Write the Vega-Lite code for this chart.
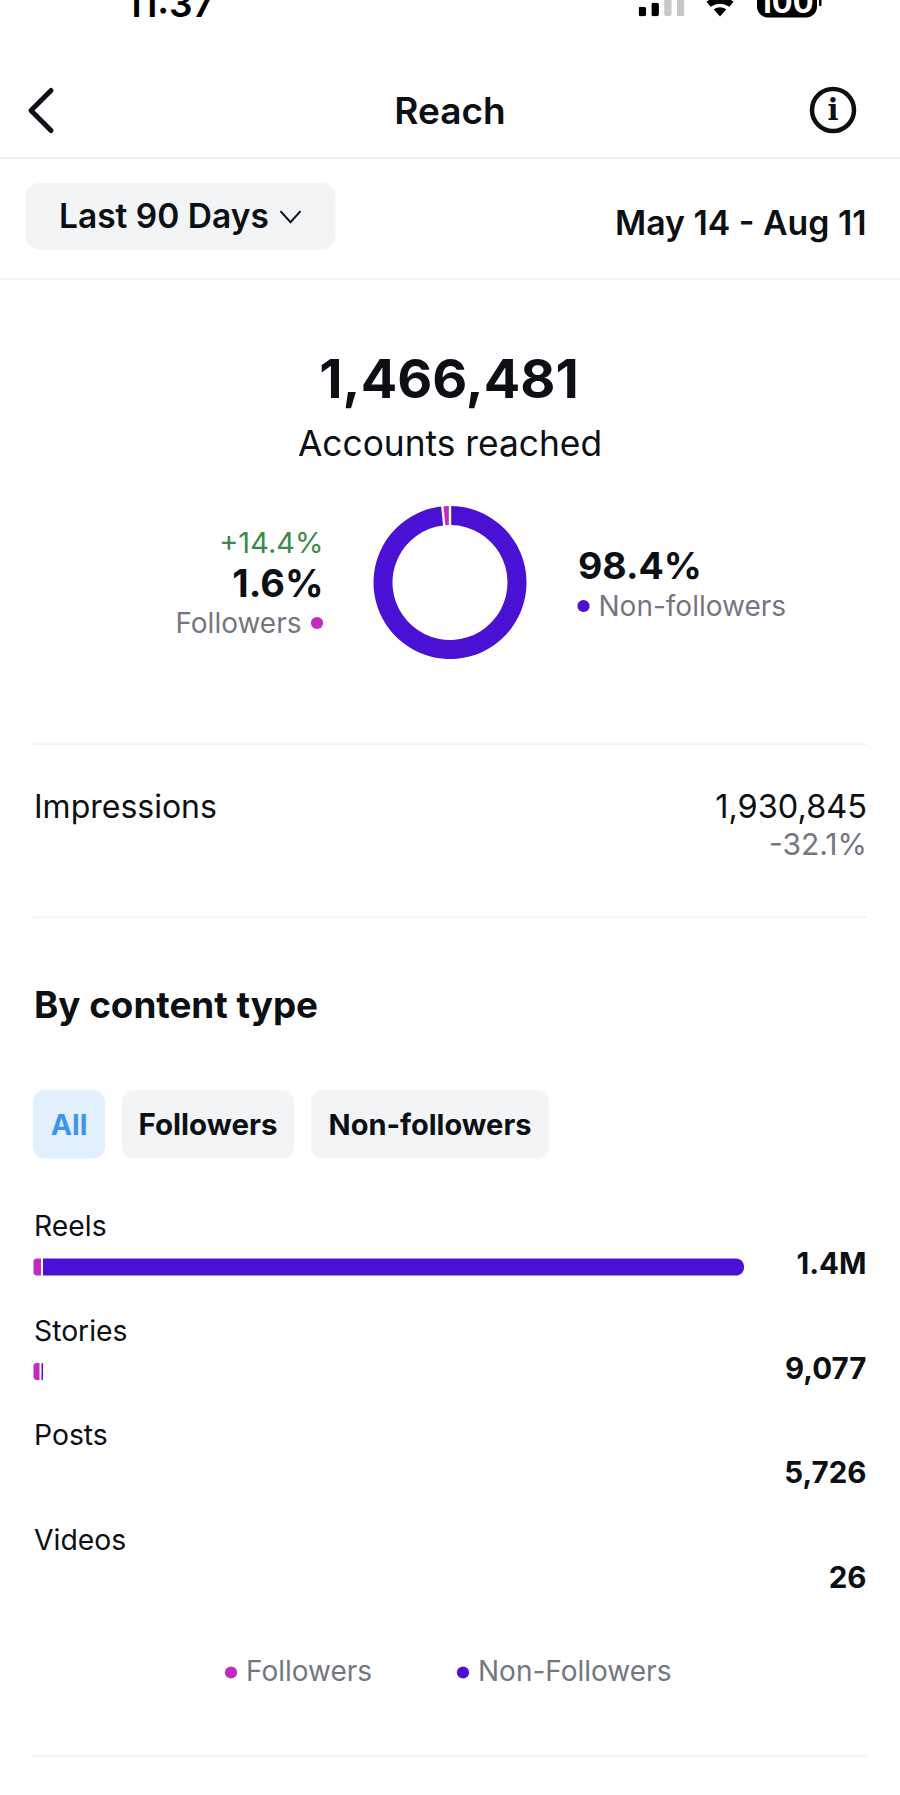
{"$schema":"https://vega.github.io/schema/vega-lite/v6.json","width":900,"height":1795,"autosize":{"type":"none"},"padding":0,"background":"white","view":{"stroke":null},"config":{"text":{"font":"Inter","baseline":"middle"}},"datasets":{"reach":[{"series":"Followers","share":1.6},{"series":"Non-Followers","share":98.4}],"content":[{"type":"Reels","series":"Followers","reach":16700},{"type":"Reels","series":"Non-Followers","reach":1383300},{"type":"Stories","series":"Followers","reach":13800},{"type":"Stories","series":"Non-Followers","reach":4900}],"totals":[{"type":"Reels","label":"1.4M"},{"type":"Stories","label":"9,077"},{"type":"Posts","label":"5,726"},{"type":"Videos","label":"26"}],"signal":[{"bar":"s1","level":10,"state":"on"},{"bar":"s2","level":14,"state":"on"},{"bar":"s3","level":18,"state":"off"},{"bar":"s4","level":18,"state":"off"}]},"resolve":{"scale":{"x":"independent","y":"independent"}},"layer":[
{"data":{"values":[{"d":"header rule"}]},"mark":{"type":"rect","color":"#eeeff1"},"encoding":{"x":{"field":"d","type":"nominal","axis":null,"scale":{"range":[0,900],"padding":0}},"y":{"field":"d","type":"nominal","axis":null,"scale":{"range":[157,159],"padding":0}}}},
{"data":{"values":[{"d":"filter rule"}]},"mark":{"type":"rect","color":"#f1f2f3"},"encoding":{"x":{"field":"d","type":"nominal","axis":null,"scale":{"range":[0,900],"padding":0}},"y":{"field":"d","type":"nominal","axis":null,"scale":{"range":[278.5,280],"padding":0}}}},
{"data":{"values":[{"d":"rule a"}]},"mark":{"type":"rect","color":"#f1f2f3"},"encoding":{"x":{"field":"d","type":"nominal","axis":null,"scale":{"range":[33,867],"padding":0}},"y":{"field":"d","type":"nominal","axis":null,"scale":{"range":[743.5,745],"padding":0}}}},
{"data":{"values":[{"d":"rule b"}]},"mark":{"type":"rect","color":"#f1f2f3"},"encoding":{"x":{"field":"d","type":"nominal","axis":null,"scale":{"range":[33,867],"padding":0}},"y":{"field":"d","type":"nominal","axis":null,"scale":{"range":[916.5,918],"padding":0}}}},
{"data":{"values":[{"d":"rule c"}]},"mark":{"type":"rect","color":"#f1f2f3"},"encoding":{"x":{"field":"d","type":"nominal","axis":null,"scale":{"range":[33,867],"padding":0}},"y":{"field":"d","type":"nominal","axis":null,"scale":{"range":[1755.5,1757],"padding":0}}}},
{"data":{"values":[{"p":"range"}]},"mark":{"type":"rect","color":"#f3f4f6","cornerRadius":14},"encoding":{"x":{"field":"p","type":"nominal","axis":null,"scale":{"range":[25.5,335.5],"padding":0}},"y":{"field":"p","type":"nominal","axis":null,"scale":{"range":[183,249.5],"padding":0}}}},
{"data":{"values":[{"p":"all"}]},"mark":{"type":"rect","color":"#e2effd","cornerRadius":12},"encoding":{"x":{"field":"p","type":"nominal","axis":null,"scale":{"range":[33,105],"padding":0}},"y":{"field":"p","type":"nominal","axis":null,"scale":{"range":[1090,1158.5],"padding":0}}}},
{"data":{"values":[{"p":"followers"}]},"mark":{"type":"rect","color":"#f3f4f6","cornerRadius":12},"encoding":{"x":{"field":"p","type":"nominal","axis":null,"scale":{"range":[122,294],"padding":0}},"y":{"field":"p","type":"nominal","axis":null,"scale":{"range":[1090,1158.5],"padding":0}}}},
{"data":{"values":[{"p":"non"}]},"mark":{"type":"rect","color":"#f3f4f6","cornerRadius":12},"encoding":{"x":{"field":"p","type":"nominal","axis":null,"scale":{"range":[311,549],"padding":0}},"y":{"field":"p","type":"nominal","axis":null,"scale":{"range":[1090,1158.5],"padding":0}}}},
{"data":{"name":"signal"},"mark":{"type":"bar","cornerRadius":2.5},"encoding":{"x":{"field":"bar","type":"nominal","axis":null,"scale":{"range":[638.5,684.5],"paddingInner":0.4,"paddingOuter":0}},"y":{"field":"level","type":"quantitative","axis":null,"scale":{"domain":[0,18],"range":[16.5,-1.5]}},"color":{"condition":{"test":"datum.state==='off'","value":"#c8c8c8"},"value":"#000000"}}},
{"data":{"values":[{"i":"wifi"}]},"mark":{"type":"point","filled":true,"opacity":1,"color":"#000000","size":1156,"shape":"M0,0.97 L-0.37,0.55 Q0,0.3 0.37,0.55 Z M-0.8,0.1 Q0,-0.45 0.8,0.1 L0.55,0.4 Q0,0.05 -0.55,0.4 Z"},"encoding":{"x":{"field":"i","type":"nominal","axis":null,"scale":{"range":[720,720]}},"y":{"field":"i","type":"nominal","axis":null,"scale":{"range":[0,0]}}}},
{"data":{"values":[{"i":"battery"}]},"mark":{"type":"rect","color":"#000000","cornerRadius":11},"encoding":{"x":{"field":"i","type":"nominal","axis":null,"scale":{"range":[757,817],"padding":0}},"y":{"field":"i","type":"nominal","axis":null,"scale":{"range":[-20,17.5],"padding":0}}}},
{"data":{"values":[{"i":"nub"}]},"mark":{"type":"rect","color":"#000000","cornerRadius":1},"encoding":{"x":{"field":"i","type":"nominal","axis":null,"scale":{"range":[819,821.5],"padding":0}},"y":{"field":"i","type":"nominal","axis":null,"scale":{"range":[-4,6],"padding":0}}}},
{"data":{"values":[{"t":"100"}]},"mark":{"type":"text","fontSize":31,"fontWeight":700,"color":"#ffffff","align":"center","baseline":"alphabetic"},"encoding":{"text":{"field":"t"},"x":{"field":"t","type":"nominal","axis":null,"scale":{"range":[786,786]}},"y":{"field":"t","type":"nominal","axis":null,"scale":{"range":[13,13]}}}},
{"data":{"values":[{"t":"11:37"}]},"mark":{"type":"text","fontSize":37,"fontWeight":600,"color":"#000000","align":"center","baseline":"alphabetic"},"encoding":{"text":{"field":"t"},"x":{"field":"t","type":"nominal","axis":null,"scale":{"range":[170,170]}},"y":{"field":"t","type":"nominal","axis":null,"scale":{"range":[17,17]}}}},
{"data":{"values":[{"i":"back"}]},"mark":{"type":"point","filled":false,"opacity":1,"color":"#0c1014","strokeWidth":5,"strokeCap":"round","strokeJoin":"round","size":1600,"shape":"M0.5,-1 L-0.5,0 L0.5,1"},"encoding":{"x":{"field":"i","type":"nominal","axis":null,"scale":{"range":[41,41]}},"y":{"field":"i","type":"nominal","axis":null,"scale":{"range":[110.5,110.5]}}}},
{"data":{"values":[{"i":"info"}]},"mark":{"type":"point","filled":false,"opacity":1,"color":"#0c1014","strokeWidth":4.5,"size":1764,"shape":"circle"},"encoding":{"x":{"field":"i","type":"nominal","axis":null,"scale":{"range":[833,833]}},"y":{"field":"i","type":"nominal","axis":null,"scale":{"range":[110,110]}}}},
{"data":{"values":[{"t":"i"}]},"mark":{"type":"text","font":"DejaVu Serif","fontSize":29,"fontWeight":700,"color":"#0c1014","align":"center"},"encoding":{"text":{"field":"t"},"x":{"field":"t","type":"nominal","axis":null,"scale":{"range":[833,833]}},"y":{"field":"t","type":"nominal","axis":null,"scale":{"range":[111,111]}}}},
{"data":{"values":[{"i":"chevron"}]},"mark":{"type":"point","filled":false,"opacity":1,"color":"#0c1014","strokeWidth":2,"size":400,"shape":"M-1,-0.55 L0,0.55 L1,-0.55"},"encoding":{"x":{"field":"i","type":"nominal","axis":null,"scale":{"range":[290.5,290.5]}},"y":{"field":"i","type":"nominal","axis":null,"scale":{"range":[216.7,216.7]}}}},
{"data":{"values":[{"t":"Reach"}]},"mark":{"type":"text","fontSize":37,"fontWeight":600,"color":"#0c1014","align":"center"},"encoding":{"text":{"field":"t"},"x":{"field":"t","type":"nominal","axis":null,"scale":{"range":[450,450]}},"y":{"field":"t","type":"nominal","axis":null,"scale":{"range":[113,113]}}}},
{"data":{"values":[{"t":"Last 90 Days"}]},"mark":{"type":"text","fontSize":33.5,"fontWeight":600,"color":"#0c1014","align":"left"},"encoding":{"text":{"field":"t"},"x":{"field":"t","type":"nominal","axis":null,"scale":{"range":[59,59]}},"y":{"field":"t","type":"nominal","axis":null,"scale":{"range":[218,218]}}}},
{"data":{"values":[{"t":"May 14 - Aug 11"}]},"mark":{"type":"text","fontSize":33.8,"fontWeight":600,"color":"#0c1014","align":"right"},"encoding":{"text":{"field":"t"},"x":{"field":"t","type":"nominal","axis":null,"scale":{"range":[866.5,866.5]}},"y":{"field":"t","type":"nominal","axis":null,"scale":{"range":[225,225]}}}},
{"data":{"values":[{"t":"1,466,481"}]},"mark":{"type":"text","fontSize":54,"fontWeight":700,"color":"#0c1014","align":"center"},"encoding":{"text":{"field":"t"},"x":{"field":"t","type":"nominal","axis":null,"scale":{"range":[449,449]}},"y":{"field":"t","type":"nominal","axis":null,"scale":{"range":[382,382]}}}},
{"data":{"values":[{"t":"Accounts reached"}]},"mark":{"type":"text","fontSize":35.3,"fontWeight":400,"color":"#0c1014","align":"center"},"encoding":{"text":{"field":"t"},"x":{"field":"t","type":"nominal","axis":null,"scale":{"range":[450,450]}},"y":{"field":"t","type":"nominal","axis":null,"scale":{"range":[445,445]}}}},
{"data":{"name":"reach"},"mark":{"type":"arc","innerRadius":57.5,"outerRadius":76.5,"padAngle":0.025},"encoding":{"theta":{"field":"share","type":"quantitative","stack":true},"order":{"field":"series","sort":"descending"},"color":{"field":"series","type":"nominal","scale":{"domain":["Followers","Non-Followers"],"range":["#c32bc0","#4a10d3"]},"legend":{"orient":"none","legendX":217,"legendY":1658.5,"direction":"horizontal","title":null,"symbolType":"circle","symbolSize":150,"labelFont":"Inter","labelFontSize":28,"labelColor":"#737780","labelOffset":1,"labelLimit":400,"columnPadding":76,"symbolStrokeWidth":0}},"x":{"datum":"donut","type":"nominal","axis":null,"scale":{"range":[450,450]}},"y":{"datum":"donut","type":"nominal","axis":null,"scale":{"range":[582.5,582.5]}}}},
{"data":{"values":[{"t":"+14.4%"}]},"mark":{"type":"text","fontSize":29,"fontWeight":400,"color":"#3b8a4b","align":"right"},"encoding":{"text":{"field":"t"},"x":{"field":"t","type":"nominal","axis":null,"scale":{"range":[323.5,323.5]}},"y":{"field":"t","type":"nominal","axis":null,"scale":{"range":[543.5,543.5]}}}},
{"data":{"values":[{"t":"1.6%"}]},"mark":{"type":"text","fontSize":38,"fontWeight":700,"color":"#0c1014","align":"right"},"encoding":{"text":{"field":"t"},"x":{"field":"t","type":"nominal","axis":null,"scale":{"range":[323.5,323.5]}},"y":{"field":"t","type":"nominal","axis":null,"scale":{"range":[586,586]}}}},
{"data":{"values":[{"t":"Followers"}]},"mark":{"type":"text","fontSize":28,"fontWeight":400,"color":"#737780","align":"right"},"encoding":{"text":{"field":"t"},"x":{"field":"t","type":"nominal","axis":null,"scale":{"range":[301.5,301.5]}},"y":{"field":"t","type":"nominal","axis":null,"scale":{"range":[625,625]}}}},
{"data":{"values":[{"s":"Followers"}]},"mark":{"type":"point","filled":true,"opacity":1,"color":"#c32bc0","size":150,"shape":"circle"},"encoding":{"x":{"field":"s","type":"nominal","axis":null,"scale":{"range":[317,317]}},"y":{"field":"s","type":"nominal","axis":null,"scale":{"range":[623,623]}}}},
{"data":{"values":[{"t":"98.4%"}]},"mark":{"type":"text","fontSize":37.5,"fontWeight":700,"color":"#0c1014","align":"left"},"encoding":{"text":{"field":"t"},"x":{"field":"t","type":"nominal","axis":null,"scale":{"range":[578,578]}},"y":{"field":"t","type":"nominal","axis":null,"scale":{"range":[567.5,567.5]}}}},
{"data":{"values":[{"s":"Non-followers"}]},"mark":{"type":"point","filled":true,"opacity":1,"color":"#4a10d3","size":150,"shape":"circle"},"encoding":{"x":{"field":"s","type":"nominal","axis":null,"scale":{"range":[583.5,583.5]}},"y":{"field":"s","type":"nominal","axis":null,"scale":{"range":[606,606]}}}},
{"data":{"values":[{"t":"Non-followers"}]},"mark":{"type":"text","fontSize":28,"fontWeight":400,"color":"#737780","align":"left"},"encoding":{"text":{"field":"t"},"x":{"field":"t","type":"nominal","axis":null,"scale":{"range":[598.5,598.5]}},"y":{"field":"t","type":"nominal","axis":null,"scale":{"range":[607.5,607.5]}}}},
{"data":{"values":[{"t":"Impressions"}]},"mark":{"type":"text","fontSize":32,"fontWeight":400,"color":"#0c1014","align":"left"},"encoding":{"text":{"field":"t"},"x":{"field":"t","type":"nominal","axis":null,"scale":{"range":[34,34]}},"y":{"field":"t","type":"nominal","axis":null,"scale":{"range":[808,808]}}}},
{"data":{"values":[{"t":"1,930,845"}]},"mark":{"type":"text","fontSize":32.5,"fontWeight":400,"color":"#0c1014","align":"right"},"encoding":{"text":{"field":"t"},"x":{"field":"t","type":"nominal","axis":null,"scale":{"range":[867,867]}},"y":{"field":"t","type":"nominal","axis":null,"scale":{"range":[808,808]}}}},
{"data":{"values":[{"t":"-32.1%"}]},"mark":{"type":"text","fontSize":30,"fontWeight":400,"color":"#737780","align":"right"},"encoding":{"text":{"field":"t"},"x":{"field":"t","type":"nominal","axis":null,"scale":{"range":[867,867]}},"y":{"field":"t","type":"nominal","axis":null,"scale":{"range":[845.5,845.5]}}}},
{"data":{"values":[{"t":"By content type"}]},"mark":{"type":"text","fontSize":36.8,"fontWeight":700,"color":"#0c1014","align":"left"},"encoding":{"text":{"field":"t"},"x":{"field":"t","type":"nominal","axis":null,"scale":{"range":[34,34]}},"y":{"field":"t","type":"nominal","axis":null,"scale":{"range":[1007,1007]}}}},
{"data":{"values":[{"t":"All"}]},"mark":{"type":"text","fontSize":28.5,"fontWeight":700,"color":"#3f94f0","align":"center"},"encoding":{"text":{"field":"t"},"x":{"field":"t","type":"nominal","axis":null,"scale":{"range":[69,69]}},"y":{"field":"t","type":"nominal","axis":null,"scale":{"range":[1126,1126]}}}},
{"data":{"values":[{"t":"Followers"}]},"mark":{"type":"text","fontSize":29.5,"fontWeight":700,"color":"#0c1014","align":"center"},"encoding":{"text":{"field":"t"},"x":{"field":"t","type":"nominal","axis":null,"scale":{"range":[208,208]}},"y":{"field":"t","type":"nominal","axis":null,"scale":{"range":[1126,1126]}}}},
{"data":{"values":[{"t":"Non-followers"}]},"mark":{"type":"text","fontSize":29,"fontWeight":700,"color":"#0c1014","align":"center"},"encoding":{"text":{"field":"t"},"x":{"field":"t","type":"nominal","axis":null,"scale":{"range":[430,430]}},"y":{"field":"t","type":"nominal","axis":null,"scale":{"range":[1126,1126]}}}},
{"data":{"name":"totals"},"mark":{"type":"text","fontSize":28.3,"fontWeight":400,"color":"#0c1014","align":"left"},"encoding":{"text":{"field":"type"},"x":{"datum":"labels","type":"nominal","axis":null,"scale":{"range":[34,34]}},"y":{"field":"type","type":"nominal","axis":null,"sort":null,"scale":{"domain":["Reels","Stories","Posts","Videos"],"range":[1228,1542],"padding":0}}}},
{"data":{"name":"totals"},"mark":{"type":"text","fontSize":29.5,"fontWeight":700,"color":"#0c1014","align":"right"},"encoding":{"text":{"field":"label"},"x":{"datum":"totals","type":"nominal","axis":null,"scale":{"range":[866.5,866.5]}},"y":{"field":"type","type":"nominal","axis":null,"sort":null,"scale":{"domain":["Reels","Stories","Posts","Videos"],"range":[1265,1579],"padding":0}}}},
{"data":{"name":"content"},"transform":[{"stack":"reach","groupby":["type"],"sort":[{"field":"series","order":"ascending"}],"as":["v0","v1"]},{"filter":"datum.series==='Followers'"}],"mark":{"type":"bar","size":17,"x2Offset":-1,"cornerRadiusTopLeft":3,"cornerRadiusBottomLeft":3},"encoding":{"x":{"field":"v0","type":"quantitative","axis":null,"scale":{"domain":[0,1400000],"range":[33.5,744]}},"x2":{"field":"v1"},"y":{"field":"type","type":"nominal","axis":null,"sort":null,"scale":{"domain":["Reels","Stories","Posts","Videos"],"range":[1214.7,1633.1],"paddingInner":0,"paddingOuter":0}},"color":{"field":"series","type":"nominal"}}},
{"data":{"name":"content"},"transform":[{"stack":"reach","groupby":["type"],"sort":[{"field":"series","order":"ascending"}],"as":["v0","v1"]},{"filter":"datum.series==='Non-Followers'"}],"mark":{"type":"bar","size":17,"xOffset":1,"cornerRadiusTopRight":8,"cornerRadiusBottomRight":8},"encoding":{"x":{"field":"v0","type":"quantitative","axis":null,"scale":{"domain":[0,1400000],"range":[33.5,744]}},"x2":{"field":"v1"},"y":{"field":"type","type":"nominal","axis":null,"sort":null,"scale":{"domain":["Reels","Stories","Posts","Videos"],"range":[1214.7,1633.1],"paddingInner":0,"paddingOuter":0}},"color":{"field":"series","type":"nominal"}}}
]}
